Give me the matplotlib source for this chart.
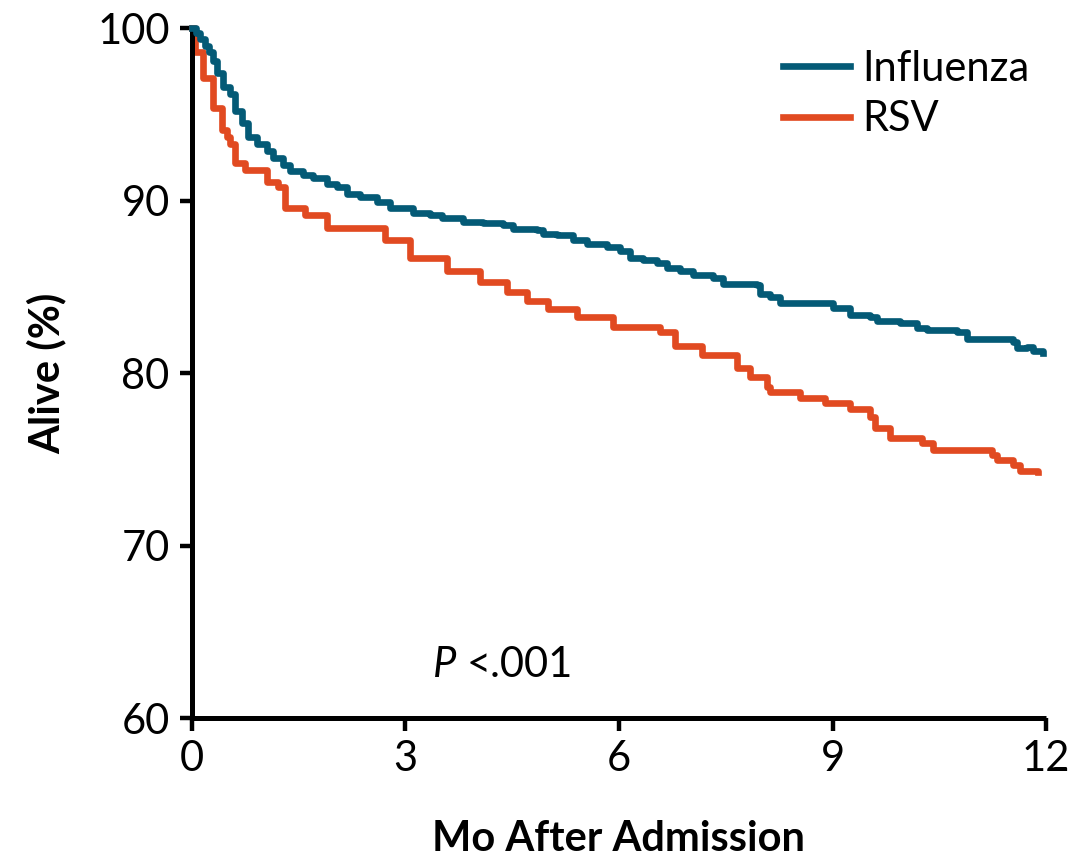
import matplotlib.pyplot as plt

plt.rcParams['font.family'] = ['Lato', 'DejaVu Sans']

# Kaplan-Meier survival, months after admission vs. percent alive
flu_t = [0, 0.06, 0.12, 0.18, 0.24, 0.29, 0.35, 0.44, 0.53, 0.60, 0.70, 0.79, 0.91,
         1.05, 1.14, 1.28, 1.38, 1.56, 1.70, 1.90, 2.04, 2.18, 2.36, 2.60, 2.78,
         3.11, 3.34, 3.52, 3.81, 4.09, 4.37, 4.51, 4.85, 4.93, 5.13, 5.35, 5.55,
         5.83, 6.01, 6.15, 6.34, 6.53, 6.67, 6.86, 7.04, 7.32, 7.46, 7.94, 7.98,
         8.12, 8.26, 8.73, 9.01, 9.25, 9.53, 9.62, 9.95, 10.19, 10.33, 10.75,
         10.89, 11.54, 11.59, 11.73, 11.82, 11.96]
flu_v = [100, 99.7, 99.4, 99.0, 98.6, 98.1, 97.4, 96.6, 96.2, 95.2, 94.5, 93.7, 93.3,
         92.9, 92.5, 92.1, 91.7, 91.5, 91.3, 91.0, 90.8, 90.4, 90.2, 89.9, 89.6,
         89.3, 89.2, 89.0, 88.75, 88.7, 88.6, 88.35, 88.3, 88.1, 88.0, 87.7, 87.5,
         87.3, 87.1, 86.7, 86.55, 86.4, 86.1, 85.95, 85.7, 85.55, 85.2, 85.1, 84.6,
         84.4, 84.1, 84.05, 83.8, 83.35, 83.25, 83.05, 82.9, 82.65, 82.5, 82.4,
         82.0, 81.8, 81.45, 81.5, 81.3, 81.2]

rsv_t = [0, 0.04, 0.15, 0.30, 0.42, 0.49, 0.53, 0.60, 0.74, 1.05, 1.21, 1.31,
         1.59, 1.90, 2.71, 3.06, 3.58, 4.05, 4.43, 4.71, 5.00, 5.41, 5.92, 6.58,
         6.79, 7.17, 7.66, 7.84, 8.08, 8.12, 8.54, 8.89, 9.25, 9.53, 9.60, 9.81,
         10.26, 10.41, 11.24, 11.31, 11.54, 11.63, 11.89]
rsv_v = [100, 98.6, 97.1, 95.4, 94.1, 93.7, 93.3, 92.2, 91.8, 91.1, 90.8, 89.6,
         89.2, 88.4, 87.7, 86.7, 85.95, 85.3, 84.7, 84.2, 83.75, 83.25, 82.7, 82.4,
         81.6, 81.05, 80.3, 79.8, 79.2, 78.9, 78.55, 78.3, 77.95, 77.45, 76.8, 76.25,
         75.95, 75.55, 75.25, 74.95, 74.65, 74.35, 74.25]

flu_color = '#045a76'
rsv_color = '#e14a21'

fig = plt.figure(figsize=(10.84, 8.58), dpi=100)
ax = fig.add_axes([0.177, 0.163, 0.788, 0.804])

ax.step(flu_t, flu_v, where='post', color=flu_color, lw=4.8, label='Influenza',
        clip_on=False, zorder=3)
ax.step(rsv_t, rsv_v, where='post', color=rsv_color, lw=4.8, label='RSV',
        clip_on=False, zorder=2)

ax.set_xlim(0, 12)
ax.set_ylim(60, 100)
ax.set_xticks([0, 3, 6, 9, 12])
ax.set_yticks([60, 70, 80, 90, 100])

for side in ('top', 'right'):
    ax.spines[side].set_visible(False)
for side in ('left', 'bottom'):
    ax.spines[side].set_linewidth(3.6)
    ax.spines[side].set_capstyle('butt')

ax.tick_params(axis='both', direction='out', length=9, width=3.2,
               labelsize=30, pad=7)

ax.set_xlabel('Mo After Admission', fontsize=30, fontweight='bold', labelpad=30)
ax.set_ylabel('Alive (%)', fontsize=30, fontweight='bold', labelpad=22)

ax.text(3.38, 63.1, 'P', fontsize=30, fontstyle='italic', ha='left', va='center')
ax.text(3.86, 63.1, '<.001', fontsize=30, ha='left', va='center')

leg = ax.legend(loc='upper right', bbox_to_anchor=(1.01, 1.005), frameon=False,
                fontsize=30, handlelength=1.6, handletextpad=0.3,
                labelspacing=0.3, borderaxespad=0.2)

fig.savefig('out.png', dpi=100, facecolor='white')
